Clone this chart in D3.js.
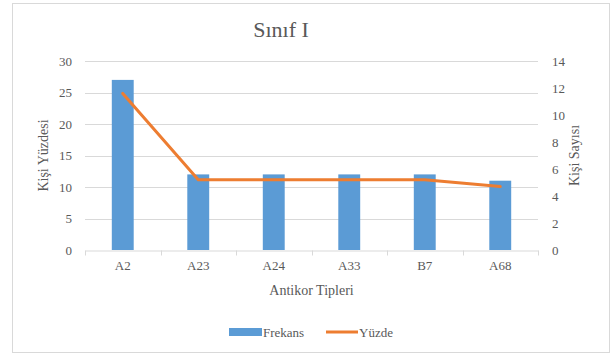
<!DOCTYPE html>
<html>
<head>
<meta charset="utf-8">
<script src="https://cdn.jsdelivr.net/npm/d3@7"></script>
<style>
  html, body { margin: 0; padding: 0; background: #fff; }
  svg { display: block; }
</style>
</head>
<body>
<svg id="chart" width="612" height="354"></svg>
<script>
// Antikor tipleri ve değerleri
const categories = ["A2", "A23", "A24", "A33", "B7", "A68"];
const frekans = [27, 12, 12, 12, 12, 11];
const yuzde = [11.6, 5.2, 5.2, 5.2, 5.2, 4.7];
const leftTicks = [0, 5, 10, 15, 20, 25, 30];
const rightTicks = [0, 2, 4, 6, 8, 10, 12, 14];

const FONT = "'Liberation Serif', 'Times New Roman', serif";
const TEXT = "#595959";

const svg = d3.select("#chart")
  .attr("font-family", FONT);
const plot = { left: 85, right: 538, top: 61, bottom: 250 };

// Çerçeve
svg.append("rect")
  .attr("x", 12.5).attr("y", 3.5)
  .attr("width", 597).attr("height", 349)
  .attr("fill", "#fff").attr("stroke", "#d9d9d9").attr("stroke-width", 1);

const x = d3.scaleBand().domain(categories).range([plot.left, plot.right]);
const yLeft = d3.scaleLinear().domain([0, 30]).range([plot.bottom, plot.top]);
const yRight = d3.scaleLinear().domain([0, 14]).range([plot.bottom, plot.top]);

// Yatay ızgara çizgileri
svg.append("g")
  .selectAll("line")
  .data(leftTicks.filter(t => t > 0))
  .join("line")
  .attr("x1", plot.left).attr("x2", plot.right)
  .attr("y1", d => Math.round(yLeft(d)) + 0.5)
  .attr("y2", d => Math.round(yLeft(d)) + 0.5)
  .attr("stroke", "#d9d9d9").attr("stroke-width", 1);

function styleAxis(g) {
  g.attr("font-family", FONT).attr("font-size", 13);
  g.selectAll("text").attr("fill", TEXT);
}

// Sol eksen
const leftAxis = svg.append("g")
  .attr("transform", `translate(${plot.left},0)`)
  .call(d3.axisLeft(yLeft).tickValues(leftTicks).tickSize(0).tickPadding(13));
leftAxis.select(".domain").remove();
styleAxis(leftAxis);

// Sağ eksen
const rightAxis = svg.append("g")
  .attr("transform", `translate(${plot.right},0)`)
  .call(d3.axisRight(yRight).tickValues(rightTicks).tickSize(0).tickPadding(14));
rightAxis.select(".domain").remove();
styleAxis(rightAxis);

// Çubuklar (Frekans)
const barW = x.bandwidth() * 0.29;
svg.append("g")
  .selectAll("rect")
  .data(categories.map((c, i) => ({ c, v: frekans[i] })))
  .join("rect")
  .attr("x", d => x(d.c) + (x.bandwidth() - barW) / 2)
  .attr("y", d => yLeft(d.v))
  .attr("width", barW)
  .attr("height", d => yLeft(0) - yLeft(d.v))
  .attr("fill", "#5b9bd5");

// Alt eksen
const bottomAxis = svg.append("g")
  .attr("transform", `translate(0,${plot.bottom + 0.5})`)
  .call(d3.axisBottom(x).tickSize(0).tickPadding(10));
bottomAxis.select(".domain").attr("stroke", "#d9d9d9");
styleAxis(bottomAxis);
// Kategori sınırlarındaki küçük çentikler
const bounds = categories.map(c => x(c)).concat([plot.right]);
bottomAxis.selectAll("line.sep")
  .data(bounds)
  .join("line")
  .attr("class", "sep")
  .attr("x1", d => Math.round(d) + 0.5).attr("x2", d => Math.round(d) + 0.5)
  .attr("y1", 0).attr("y2", 5)
  .attr("stroke", "#d9d9d9");

// Çizgi (Yüzde)
const line = d3.line()
  .x((d, i) => x(categories[i]) + x.bandwidth() / 2)
  .y(d => yRight(d));
svg.append("path")
  .datum(yuzde)
  .attr("d", line)
  .attr("fill", "none")
  .attr("stroke", "#ed7d31")
  .attr("stroke-width", 3)
  .attr("stroke-linejoin", "round")
  .attr("stroke-linecap", "round");

// Başlık
svg.append("text")
  .attr("x", 281).attr("y", 37)
  .attr("text-anchor", "middle")
  .attr("font-size", 22).attr("fill", TEXT)
  .text("Sınıf I");

// Eksen başlıkları
svg.append("text")
  .attr("transform", `translate(48,${(plot.top + plot.bottom) / 2}) rotate(-90)`)
  .attr("text-anchor", "middle")
  .attr("font-size", 14).attr("fill", TEXT)
  .text("Kişi Yüzdesi");

svg.append("text")
  .attr("transform", `translate(579,${(plot.top + plot.bottom) / 2}) rotate(-90)`)
  .attr("text-anchor", "middle")
  .attr("font-size", 14).attr("fill", TEXT)
  .text("Kişi Sayısı");

svg.append("text")
  .attr("x", (plot.left + plot.right) / 2).attr("y", 295)
  .attr("text-anchor", "middle")
  .attr("font-size", 14).attr("fill", TEXT)
  .text("Antikor Tipleri");

// Gösterge
const legend = svg.append("g").attr("font-size", 13).attr("fill", TEXT);
legend.append("rect")
  .attr("x", 229).attr("y", 328).attr("width", 33).attr("height", 8)
  .attr("fill", "#5b9bd5");
legend.append("text")
  .attr("x", 263).attr("y", 336.5)
  .text("Frekans");
legend.append("line")
  .attr("x1", 326).attr("x2", 358).attr("y1", 332).attr("y2", 332)
  .attr("stroke", "#ed7d31").attr("stroke-width", 3);
legend.append("text")
  .attr("x", 359).attr("y", 336.5)
  .text("Yüzde");
</script>
</body>
</html>
